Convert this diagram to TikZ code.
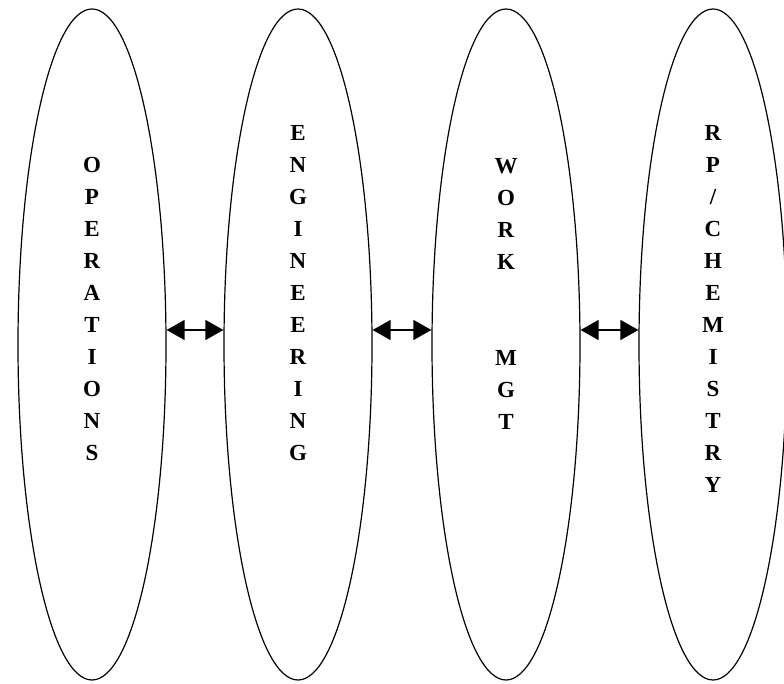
\documentclass[tikz,border=0pt]{standalone}
\usepackage{fontspec}
\setmainfont{Liberation Serif}
\usetikzlibrary{shapes.geometric,arrows.meta}
\begin{document}
\begin{tikzpicture}[x=1pt,y=-1pt,
  oval/.style={draw,ellipse,line width=1.2pt,minimum width=148pt,minimum height=671pt,inner sep=0pt},
  word/.style={align=center,font=\fontsize{23}{32}\selectfont\bfseries,inner sep=0pt,anchor=north},
  link/.style={{Triangle[length=18pt,width=20pt]}-{Triangle[length=18pt,width=20pt]},line width=1.3pt}]
\useasboundingbox (0,0) rectangle (784,683);
% the four departments
\node[oval] (ops) at (92,344.5) {};
\node[oval] (eng) at (298,344.5) {};
\node[oval] (wm)  at (506,344.5) {};
\node[oval] (rp)  at (713,344.5) {};
% vertical labels
\node[word] (opsT) at (92,157) {O\\P\\E\\R\\A\\T\\I\\O\\N\\S};
\node[word] (engT) at (298,125) {E\\N\\G\\I\\N\\E\\E\\R\\I\\N\\G};
\node[word] (wmT)  at (506,158) {W\\O\\R\\K\\\mbox{}\\\mbox{}\\M\\G\\T};
\node[word] (rpT)  at (713,125) {R\\P\\/\\C\\H\\E\\M\\I\\S\\T\\R\\Y};
% two-way links between neighbours
\draw[link] ([yshift=14.5pt]ops.east) -- ([yshift=14.5pt]eng.west);
\draw[link] ([yshift=14.5pt]eng.east) -- ([yshift=14.5pt]wm.west);
\draw[link] ([yshift=14.5pt]wm.east) -- ([yshift=14.5pt]rp.west);
\end{tikzpicture}
\end{document}
